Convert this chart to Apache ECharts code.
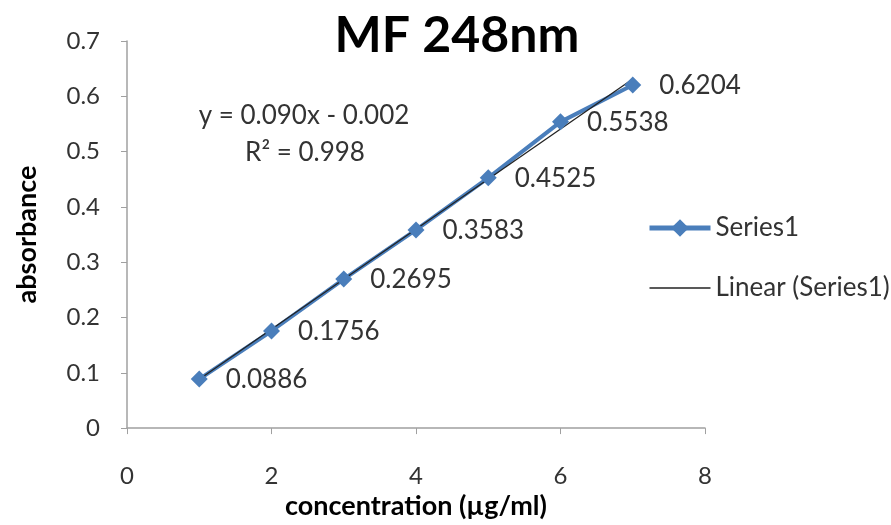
<!DOCTYPE html>
<html><head><meta charset="utf-8">
<script src="https://cdn.jsdelivr.net/npm/echarts@6/dist/echarts.min.js"></script>
<style>html,body{margin:0;padding:0;background:#fff}#c{width:891px;height:525px}</style>
</head><body><div id="c"></div>
<script>
const concentrations = [1, 2, 3, 4, 5, 6, 7];
const absorbance = [0.0886, 0.1756, 0.2695, 0.3583, 0.4525, 0.5538, 0.6204];
const xTicks = [0, 2, 4, 6, 8];
const yTicks = [0, 0.1, 0.2, 0.3, 0.4, 0.5, 0.6, 0.7];
const equationText = 'y = 0.090x - 0.002';
const r2Text = 'R² = 0.998';

// least-squares trendline from the data
const n = concentrations.length;
const mx = concentrations.reduce((a, b) => a + b, 0) / n;
const my = absorbance.reduce((a, b) => a + b, 0) / n;
let sxy = 0, sxx = 0;
for (let i = 0; i < n; i++) { sxy += (concentrations[i] - mx) * (absorbance[i] - my); sxx += (concentrations[i] - mx) ** 2; }
const slope = sxy / sxx, icpt = my - slope * mx;
const xMinT = Math.min(...concentrations), xMaxT = Math.max(...concentrations);
const trend = [[xMinT, icpt + slope * xMinT], [xMaxT, icpt + slope * xMaxT]];

const font = 'Lato, "Open Sans", sans-serif';
const chart = echarts.init(document.getElementById('c'));
chart.setOption({
  animation: false,
  title: { text: 'MF 248nm', left: 452, top: 6, textAlign: 'center',
    textStyle: { fontFamily: font, fontSize: 50, fontWeight: 'bold', color: '#000' } },
  grid: { left: 127, right: 186, top: 41, bottom: 93 },
  xAxis: { type: 'value', min: 0, max: 8, interval: 2,
    name: 'concentration (µg/ml)', nameLocation: 'middle', nameGap: 60,
    nameTextStyle: { fontFamily: font, fontSize: 27, fontWeight: 'bold', color: '#000' },
    axisLine: { lineStyle: { color: '#a0a0a0', width: 1.5 } },
    axisTick: { show: true, length: 6, lineStyle: { color: '#a0a0a0' } },
    axisLabel: { margin: 36, fontFamily: font, fontSize: 24, color: '#333',
      formatter: v => xTicks.includes(v) ? String(v) : '' },
    splitLine: { show: false } },
  yAxis: { type: 'value', min: 0, max: 0.7, interval: 0.1,
    name: 'absorbance', nameLocation: 'middle', nameGap: 86,
    nameTextStyle: { fontFamily: font, fontSize: 27, fontWeight: 'bold', color: '#000' },
    axisLine: { show: true, lineStyle: { color: '#a0a0a0', width: 1.5 } },
    axisTick: { show: true, length: 6, lineStyle: { color: '#a0a0a0' } },
    axisLabel: { margin: 27, fontFamily: font, fontSize: 24, color: '#333',
      formatter: v => { const t = yTicks.find(k => Math.abs(k - v) < 1e-9); return t === undefined ? '' : (t === 0 ? '0' : t.toFixed(1)); } },
    splitLine: { show: false } },
  legend: { orient: 'vertical', left: 642, top: 210, itemGap: 34, itemWidth: 61, itemHeight: 22,
    textStyle: { fontFamily: font, fontSize: 26, color: '#333' },
    data: [
      { name: 'Series1', lineStyle: { width: 5, color: '#4A7EBB' }, itemStyle: { color: '#4A7EBB' } },
      { name: 'Linear (Series1)', lineStyle: { width: 1.3, color: '#222' }, itemStyle: { opacity: 0 } }
    ] },
  graphic: [
    { type: 'text', x: 304, y: 103, style: { text: equationText, fontFamily: font, fontSize: 26, fill: '#333', align: 'center' } },
    { type: 'text', x: 305, y: 140, style: { text: r2Text, fontFamily: font, fontSize: 26, fill: '#333', align: 'center' } }
  ],
  series: [
    { name: 'Series1', type: 'line', data: concentrations.map((x, i) => [x, absorbance[i]]),
      symbol: 'diamond', symbolSize: 17, lineStyle: { color: '#4A7EBB', width: 4 },
      itemStyle: { color: '#4A7EBB' },
      label: { show: true, position: 'right', distance: 18, offset: [0, 1], fontFamily: font, fontSize: 26, color: '#333',
        formatter: p => String(p.value[1]) } },
    { name: 'Linear (Series1)', type: 'line', data: trend, symbol: 'none',
      lineStyle: { color: '#222', width: 1.3 }, itemStyle: { color: '#222' }, z: 3 }
  ]
});
</script></body></html>
